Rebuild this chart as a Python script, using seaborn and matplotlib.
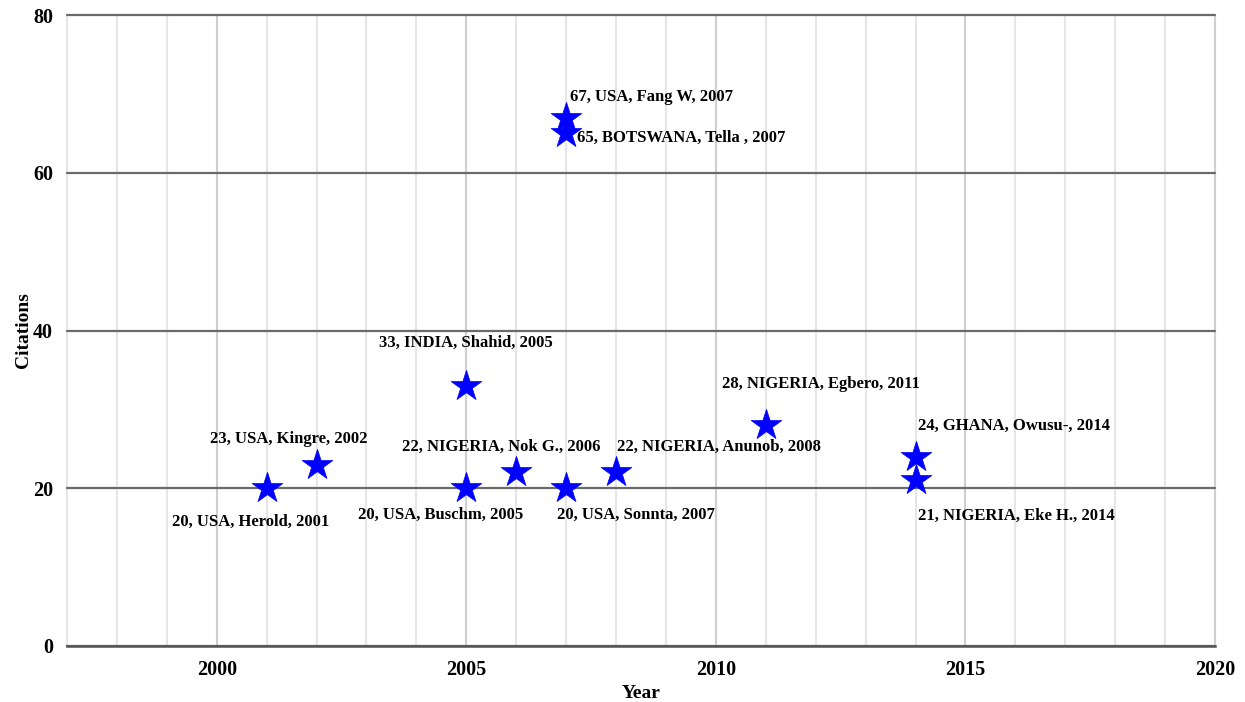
"""
Citations per year scatter with labelled stars.
"""

import matplotlib.pyplot as plt
import seaborn as sns
import pandas as pd
from matplotlib.ticker import MultipleLocator


# ---------------------------------------------------
# Datos
# ---------------------------------------------------

years = [2001, 2002, 2005, 2005, 2006, 2007, 2008, 2007, 2007, 2011, 2014, 2014]
citations = [20, 23, 33, 20, 22, 20, 22, 67, 65, 28, 24, 21]
countries = ["USA", "USA", "INDIA", "USA", "NIGERIA", "USA", "NIGERIA",
             "USA", "BOTSWANA", "NIGERIA", "GHANA", "NIGERIA"]
authors = ["Herold", "Kingre", "Shahid", "Buschm", "Nok G.", "Sonnta",
           "Anunob", "Fang W", "Tella ", "Egbero", "Owusu-", "Eke H."]

# label offsets in pixels (dx, dy, ha)
offsets = [(-16, -34, "center"), (-28, 26, "center"), (0, 43, "center"),
           (-26, -27, "center"), (-15, 26, "center"), (-9, -27, "left"),
           (1, 26, "left"), (4, 21, "left"), (11, -5, "left"),
           (55, 41, "center"), (2, 31, "left"), (2, -36, "left")]

df = pd.DataFrame({"Year": years, "Citations": citations})

sns.set_theme(style="white")
plt.rcParams["font.family"] = ["Liberation Serif", "DejaVu Serif"]
plt.rcParams["font.weight"] = "bold"

fig = plt.figure(figsize=(12.45, 7.02), dpi=100)
ax = fig.add_axes([0.0538, 0.0798, 0.9221, 0.8988])

# grid
ax.set_xlim(1997, 2020)
ax.set_ylim(0, 80)
ax.xaxis.set_major_locator(MultipleLocator(5))
ax.xaxis.set_minor_locator(MultipleLocator(1))
ax.yaxis.set_major_locator(MultipleLocator(20))
ax.grid(axis="x", which="minor", color="#e6e6e6", linewidth=1.5)
ax.grid(axis="x", which="major", color="#cfcfcf", linewidth=1.5)
ax.grid(axis="y", which="major", color="#6a6a6a", linewidth=1.6)
ax.set_axisbelow(True)

sns.scatterplot(
    data=df,
    x="Year",
    y="Citations",
    marker="*",
    s=540,
    color="#0000ff",
    edgecolor="#0000ff",
    linewidth=0.5,
    ax=ax,
    zorder=3
)

for i in range(len(years)):
    dx, dy, ha = offsets[i]
    label = f"{citations[i]}, {countries[i]}, {authors[i]}, {years[i]}"
    ax.annotate(
        label,
        xy=(years[i], citations[i]),
        xytext=(dx, dy),
        textcoords="offset pixels",
        ha=ha,
        va="center",
        fontsize=12,
        fontweight="bold",
        color="#000000",
        zorder=4
    )

for side in ["top", "left", "right"]:
    ax.spines[side].set_visible(False)
ax.spines["bottom"].set_color("#555555")
ax.spines["bottom"].set_linewidth(1.8)

ax.tick_params(axis="both", which="both", length=0, labelsize=14.5,
               colors="#000000")
ax.tick_params(axis="x", pad=10)
ax.tick_params(axis="y", pad=10)
for lab in ax.get_xticklabels() + ax.get_yticklabels():
    lab.set_fontweight("bold")

ax.set_xlabel("Year", fontsize=14, fontweight="bold", color="#000000",
              labelpad=4)
ax.set_ylabel("Citations", fontsize=14, fontweight="bold", color="#000000",
              labelpad=1)

# gridlines on the edges should not be cut in half
fig.canvas.draw()
for line in ax.get_xgridlines() + ax.get_ygridlines():
    line.set_clip_on(False)
for line in ax.xaxis.get_minorticklines():
    line.set_clip_on(False)
for tick in ax.xaxis.get_minor_ticks():
    tick.gridline.set_clip_on(False)

plt.savefig("out.png", dpi=100)
